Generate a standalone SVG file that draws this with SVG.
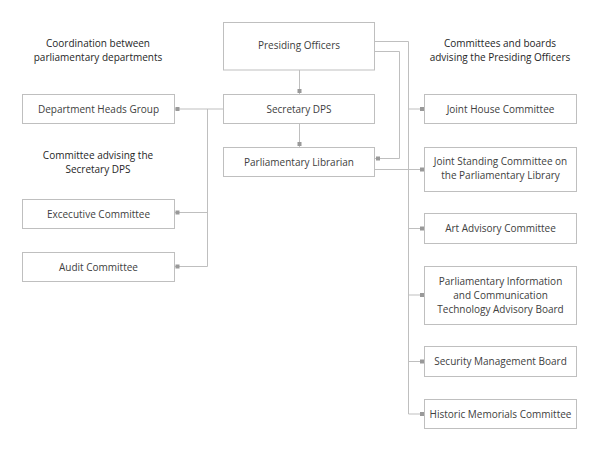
<svg xmlns="http://www.w3.org/2000/svg" width="600" height="451" viewBox="0 0 600 451">
<style>
.box{fill:#fff;stroke:#bfbfbf;stroke-width:1}
.t{font-family:"Open Sans","Liberation Sans",sans-serif;font-size:10px;fill:#404040;text-anchor:middle}
.h{font-family:"Open Sans","Liberation Sans",sans-serif;font-size:10px;fill:#262626;text-anchor:middle}
.c{fill:none;stroke:#bfbfbf;stroke-width:1}
.m{fill:#999}
</style>
<rect width="600" height="451" fill="#fff"/>
<g id="labels">
<text class="h" x="98" y="47">Coordination between</text>
<text class="h" x="98" y="61">parliamentary departments</text>
<text class="h" x="500" y="47">Committees and boards</text>
<text class="h" x="500" y="61">advising the Presiding Officers</text>
<text class="h" x="98" y="159">Committee advising the</text>
<text class="h" x="98" y="173">Secretary DPS</text>
</g>
<g id="connectors">
<path class="c" d="M299.5 70V94"/>
<path class="c" d="M299.5 123V147"/>
<path class="c" d="M174 109H223"/>
<path class="c" d="M207.5 109V266.5H174"/>
<path class="c" d="M207.5 212.5H174"/>
<path class="c" d="M375 41.5H408.5V414H424"/>
<path class="c" d="M375 51.5H399.5V158.5H375"/>
<path class="c" d="M375 169.5H424"/>
<path class="c" d="M408.5 109H424"/>
<path class="c" d="M408.5 228.5H424"/>
<path class="c" d="M408.5 295H424"/>
<path class="c" d="M408.5 361.5H424"/>
<rect class="m" x="297.5" y="89" width="4" height="4"/>
<rect class="m" x="297.5" y="142" width="4" height="4"/>
<rect class="m" x="175.5" y="107" width="4" height="4"/>
<rect class="m" x="175.5" y="210.5" width="4" height="4"/>
<rect class="m" x="175.5" y="264.5" width="4" height="4"/>
<rect class="m" x="376" y="156.5" width="4" height="4"/>
<rect class="m" x="420" y="107" width="4" height="4"/>
<rect class="m" x="420" y="167.5" width="4" height="4"/>
<rect class="m" x="420" y="226.5" width="4" height="4"/>
<rect class="m" x="420" y="293" width="4" height="4"/>
<rect class="m" x="420" y="359.5" width="4" height="4"/>
<rect class="m" x="420" y="412" width="4" height="4"/>
</g>
<g id="presiding"><rect class="box" x="223.5" y="22.5" width="151" height="47.5"/><text class="t" x="299" y="49">Presiding Officers</text></g>
<g id="secretary"><rect class="box" x="223.5" y="94.5" width="151" height="29"/><text class="t" x="299" y="112.5">Secretary DPS</text></g>
<g id="librarian"><rect class="box" x="223.5" y="147.5" width="151" height="29"/><text class="t" x="299" y="165.5">Parliamentary Librarian</text></g>
<g id="deptheads"><rect class="box" x="22.5" y="94.5" width="152" height="29"/><text class="t" x="98.5" y="112.5">Department Heads Group</text></g>
<g id="executive"><rect class="box" x="22.5" y="199.5" width="152" height="29"/><text class="t" x="98.5" y="217.5">Excecutive Committee</text></g>
<g id="audit"><rect class="box" x="22.5" y="252.5" width="152" height="29"/><text class="t" x="98.5" y="270.5">Audit Committee</text></g>
<g id="jointhouse"><rect class="box" x="424.5" y="94.5" width="152" height="29"/><text class="t" x="500.5" y="112.5">Joint House Committee</text></g>
<g id="jointstanding"><rect class="box" x="424.5" y="147.5" width="152" height="44"/><text class="t" x="500.5" y="165">Joint Standing Committee on</text><text class="t" x="500.5" y="179">the Parliamentary Library</text></g>
<g id="art"><rect class="box" x="424.5" y="213.5" width="152" height="30"/><text class="t" x="500.5" y="232">Art Advisory Committee</text></g>
<g id="pict"><rect class="box" x="424.5" y="266.5" width="152" height="58"/><text class="t" x="500.5" y="285">Parliamentary Information</text><text class="t" x="500.5" y="299">and Communication</text><text class="t" x="500.5" y="313">Technology Advisory Board</text></g>
<g id="security"><rect class="box" x="424.5" y="346.5" width="152" height="30"/><text class="t" x="500.5" y="365">Security Management Board</text></g>
<g id="historic"><rect class="box" x="424.5" y="399.5" width="152" height="29"/><text class="t" x="500.5" y="417.5">Historic Memorials Committee</text></g>
</svg>
